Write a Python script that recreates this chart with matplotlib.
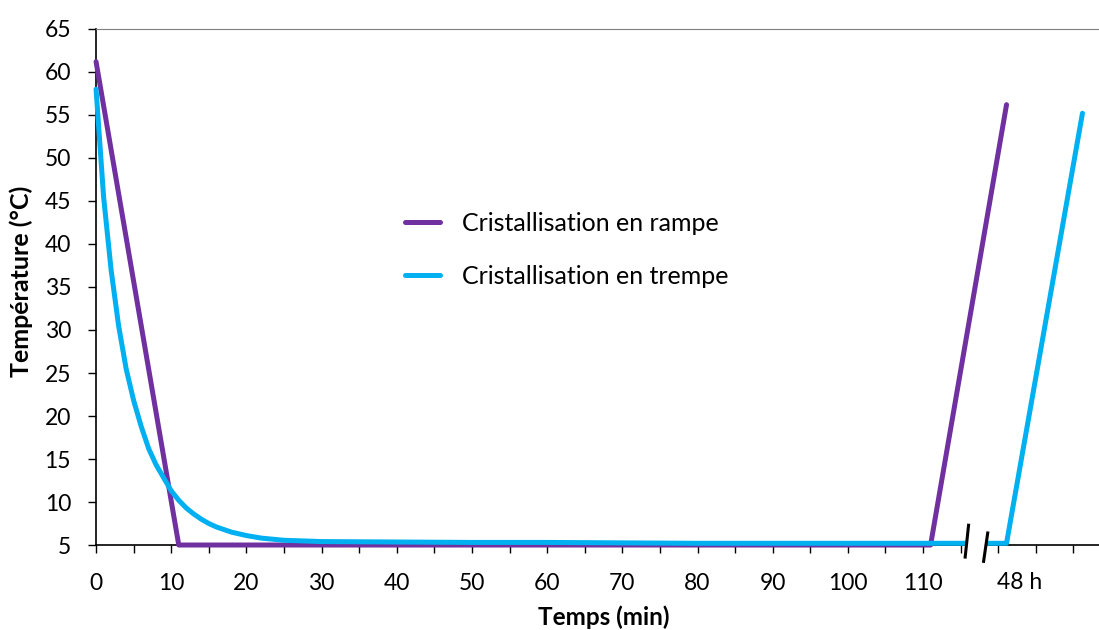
import matplotlib.pyplot as plt
import matplotlib.transforms as mtransforms
from matplotlib.patches import Polygon

plt.rcParams['font.family'] = ['Lato', 'DejaVu Sans']

# Crystallisation by ramp
ramp_t = [0, 11, 111, 121.1]
ramp_temp = [61.2, 5, 5, 56.2]

# Crystallisation by quench
quench_t = [0, 1, 2, 3, 4, 5, 6, 7, 8, 9, 10, 11, 12, 13, 14, 15, 16, 17, 18,
            20, 22, 25, 30, 40, 50, 60, 70, 80, 90, 100, 110, 115, 118, 121.1, 131.2]
quench_temp = [58, 45.5, 37, 30.5, 25.5, 21.8, 18.8, 16.2, 14.3, 12.8, 11.3, 10.2,
               9.3, 8.6, 8.0, 7.5, 7.1, 6.8, 6.5, 6.1, 5.8, 5.55, 5.4, 5.35, 5.3,
               5.3, 5.25, 5.2, 5.2, 5.2, 5.2, 5.2, 5.2, 5.2, 55.2]

x_ticks = list(range(0, 135, 5))
x_labels = [str(v) if v % 10 == 0 and v <= 110 else '' for v in x_ticks]
y_ticks = list(range(5, 70, 5))

fig = plt.figure(figsize=(10.99, 6.3), dpi=100)
ax = fig.add_axes([0.0874, 0.1349, 0.9126, 0.8191])

ax.plot(ramp_t, ramp_temp, color='#7030A0', lw=3.6, label='Cristallisation en rampe',
        solid_capstyle='round', clip_on=False, zorder=3)
ax.plot(quench_t, quench_temp, color='#00B0F0', lw=3.6, label='Cristallisation en trempe',
        solid_capstyle='round', clip_on=False, zorder=4)

ax.set_xlim(0, 133.4)
ax.set_ylim(5, 65)
ax.set_xticks(x_ticks)
ax.set_xticklabels(x_labels)
ax.set_yticks(y_ticks)
ax.tick_params(direction='out', length=6, width=1, labelsize=16.5, colors='black')
ax.tick_params(axis='x', pad=14)
ax.tick_params(axis='y', pad=12)

ax.spines['right'].set_visible(False)
ax.spines['top'].set_color('#7f7f7f')
ax.spines['left'].set_linewidth(1.2)
ax.spines['bottom'].set_linewidth(1.2)

ax.set_xlabel('Temps (min)', fontsize=17.5, fontweight='bold')
ax.set_ylabel('Température (°C)', fontsize=18, fontweight='bold')
ax.xaxis.set_label_coords(0.506, -0.117)
ax.yaxis.set_label_coords(-0.063, 0.51)

# axis break between 110 min and 48 h
gap = Polygon([(115.8, 2.8), (118.3, 2.8), (118.6, 7.6), (116.1, 7.6)], closed=True,
              facecolor='white', edgecolor='none', clip_on=False, zorder=6)
ax.add_patch(gap)
ax.plot([115.6, 116.05], [3.6, 7.3], color='black', lw=2.2, clip_on=False, zorder=7)
ax.plot([118.05, 118.6], [3.1, 6.4], color='black', lw=2.2, clip_on=False, zorder=7)
trans = mtransforms.blended_transform_factory(ax.transData, ax.transAxes)
ax.text(122.8, -0.052, '48 h', transform=trans, fontsize=16.5, ha='center', va='top')

ax.legend(loc='center left', bbox_to_anchor=(0.308, 0.572), frameon=False, fontsize=18,
          handlelength=1.4, handletextpad=0.9, labelspacing=1.2, borderpad=0,
          borderaxespad=0)

fig.savefig('out.png', dpi=100)
